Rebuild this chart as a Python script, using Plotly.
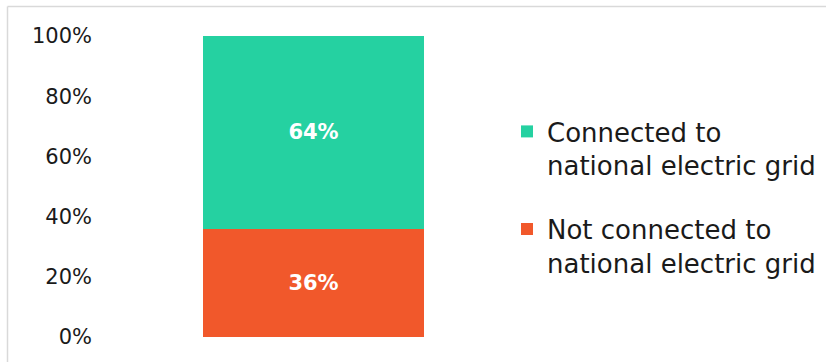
import plotly.graph_objects as go

# Share of sites by grid connection
categories = [""]
not_connected = [36]
connected = [64]
series_names = ["Not connected to<br>national electric grid",
                "Connected to<br>national electric grid"]
series_colors = ["#F1582B", "#25D1A1"]
legend_ranks = [2, 1]
tick_values = [0, 20, 40, 60, 80, 100]
tick_labels = ["0%", "20%", "40%", "60%", "80%", "100%"]

FONT = "DejaVu Sans, sans-serif"
W, H = 826, 362
ML, MR, MT, MB = 105, 304, 36, 25

fig = go.Figure()
for vals, name, color, rank in zip([not_connected, connected], series_names,
                                   series_colors, legend_ranks):
    fig.add_trace(go.Bar(
        x=categories, y=vals, name=name, legendgroup=name, legendrank=rank,
        marker=dict(color=color, line=dict(width=0)),
        width=0.53,
        texttemplate="%{y}%", textposition="inside", insidetextanchor="middle",
        textfont=dict(color="white", size=21, family=FONT, weight="bold"),
    ))

pw = W - ML - MR
ph = H - MT - MB
# light frame along the top and left edges
fig.add_shape(type="line", xref="paper", yref="paper",
              x0=(7.5 - ML) / pw, x1=(W + 20 - ML) / pw,
              y0=(H - MB - 6.5) / ph, y1=(H - MB - 6.5) / ph,
              line=dict(color="#D9D9D9", width=1.5))
fig.add_shape(type="line", xref="paper", yref="paper",
              x0=(7.5 - ML) / pw, x1=(7.5 - ML) / pw,
              y0=(H - MB - 6.5) / ph, y1=-(MB + 20) / ph,
              line=dict(color="#D9D9D9", width=1.5))

fig.update_layout(
    width=W, height=H,
    margin=dict(l=ML, r=MR, t=MT, b=MB, autoexpand=False),
    barmode="stack",
    plot_bgcolor="white", paper_bgcolor="white",
    font=dict(family=FONT, color="#1A1A1A", size=24),
    xaxis=dict(range=[-0.5, 0.5], showticklabels=False, showgrid=False,
               zeroline=False, showline=False, fixedrange=True),
    yaxis=dict(range=[0, 100], tickvals=tick_values, ticktext=tick_labels,
               showgrid=False, zeroline=False, showline=False, automargin=False,
               ticklabelstandoff=12,
               tickfont=dict(size=21, color="#1A1A1A")),
    legend=dict(traceorder="grouped", xref="container", yref="container",
                x=507 / W, y=1 - 108 / H, xanchor="left", yanchor="top",
                valign="top", tracegroupgap=27,
                font=dict(size=26, color="#1A1A1A"), itemwidth=30),
    showlegend=True,
)

fig.write_html("out.html")
